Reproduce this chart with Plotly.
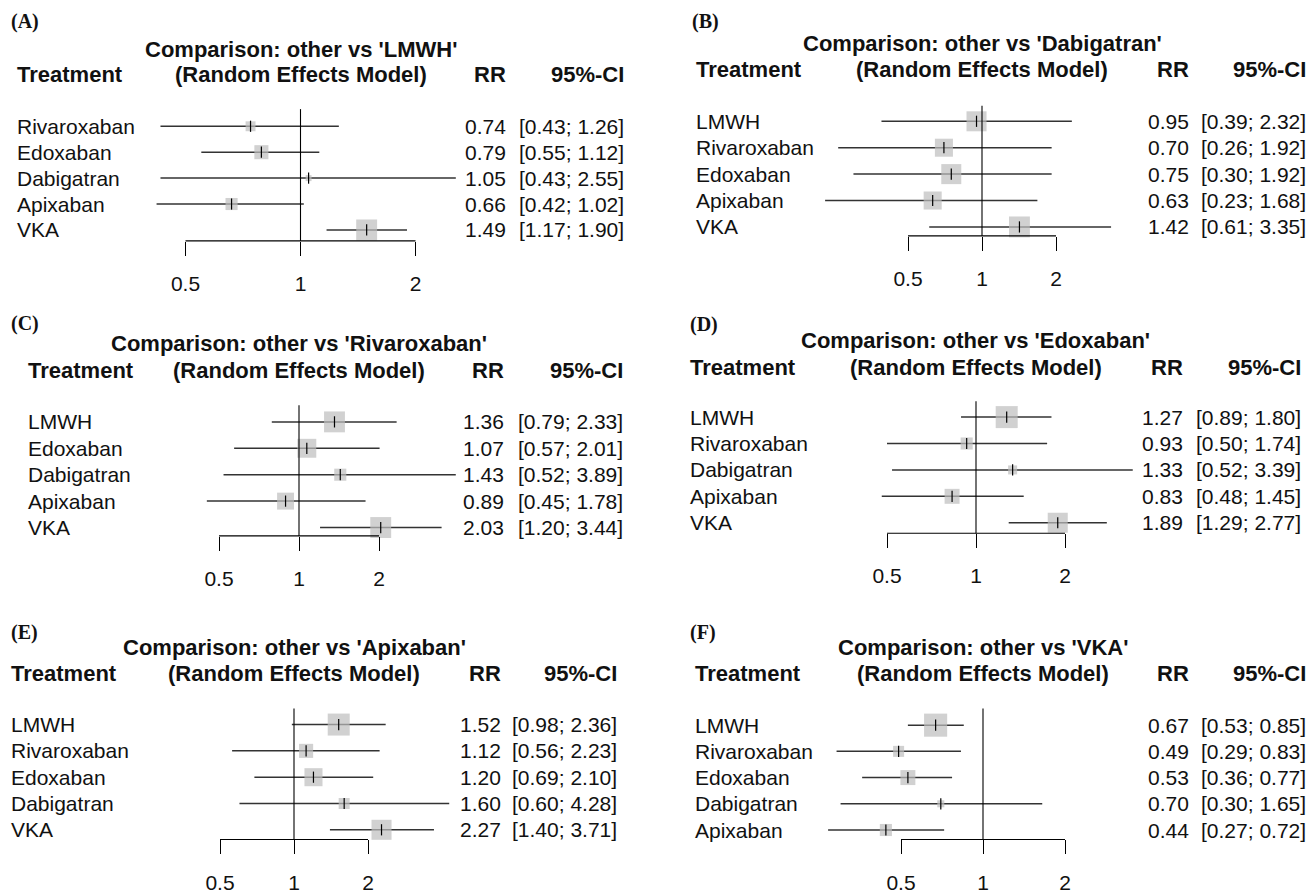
import math
import plotly.graph_objects as go

W, H = 1315, 894

# ---------------- data ----------------
PANELS = ["A", "B", "C", "D", "E", "F"]

A_ref = "LMWH"
A_treat = ["Rivaroxaban", "Edoxaban", "Dabigatran", "Apixaban", "VKA"]
A_rr = [0.74, 0.79, 1.05, 0.66, 1.49]
A_lo = [0.43, 0.55, 0.43, 0.42, 1.17]
A_hi = [1.26, 1.12, 2.55, 1.02, 1.90]
A_w = [45, 64, 27, 55, 95]

B_ref = "Dabigatran"
B_treat = ["LMWH", "Rivaroxaban", "Edoxaban", "Apixaban", "VKA"]
B_rr = [0.95, 0.70, 0.75, 0.63, 1.42]
B_lo = [0.39, 0.26, 0.30, 0.23, 0.61]
B_hi = [2.32, 1.92, 1.92, 1.68, 3.35]
B_w = [91, 82, 91, 82, 95]

C_ref = "Rivaroxaban"
C_treat = ["LMWH", "Edoxaban", "Dabigatran", "Apixaban", "VKA"]
C_rr = [1.36, 1.07, 1.43, 0.89, 2.03]
C_lo = [0.79, 0.57, 0.52, 0.45, 1.20]
C_hi = [2.33, 2.01, 3.89, 1.78, 3.44]
C_w = [95, 86, 55, 77, 95]

D_ref = "Edoxaban"
D_treat = ["LMWH", "Rivaroxaban", "Dabigatran", "Apixaban", "VKA"]
D_rr = [1.27, 0.93, 1.33, 0.83, 1.89]
D_lo = [0.89, 0.50, 0.52, 0.48, 1.29]
D_hi = [1.80, 1.74, 3.39, 1.45, 2.77]
D_w = [100, 55, 41, 68, 91]

E_ref = "Apixaban"
E_treat = ["LMWH", "Rivaroxaban", "Edoxaban", "Dabigatran", "VKA"]
E_rr = [1.52, 1.12, 1.20, 1.60, 2.27]
E_lo = [0.98, 0.56, 0.69, 0.60, 1.40]
E_hi = [2.36, 2.23, 2.10, 4.28, 3.71]
E_w = [100, 64, 82, 50, 91]

F_ref = "VKA"
F_treat = ["LMWH", "Rivaroxaban", "Edoxaban", "Dabigatran", "Apixaban"]
F_rr = [0.67, 0.49, 0.53, 0.70, 0.44]
F_lo = [0.53, 0.29, 0.36, 0.30, 0.27]
F_hi = [0.85, 0.83, 0.77, 1.65, 0.72]
F_w = [105, 50, 68, 32, 55]

TICK_VALS = [0.5, 1, 2]
TICK_TEXT = ["0.5", "1", "2"]
NULL_VALUE = 1

DATA = {
    "A": (A_ref, A_treat, A_rr, A_lo, A_hi, A_w),
    "B": (B_ref, B_treat, B_rr, B_lo, B_hi, B_w),
    "C": (C_ref, C_treat, C_rr, C_lo, C_hi, C_w),
    "D": (D_ref, D_treat, D_rr, D_lo, D_hi, D_w),
    "E": (E_ref, E_treat, E_rr, E_lo, E_hi, E_w),
    "F": (F_ref, F_treat, F_rr, F_lo, F_hi, F_w),
}

# ---------------- geometry (pixels) & style ----------------
GEOM = {
    "A": dict(x1=300.5, k=115, row1=126.7, sp=26.0, top=109.5, axis=241.7,
              title_y=49.3, head_y=75, left=15, rr_r=508, ci_r=626, tag_x=8.5, tag_y=22),
    "B": dict(x1=982, k=74, row1=121.7, sp=26.5, top=106, axis=236.7,
              title_y=43.3, head_y=70, left=694, rr_r=1191, ci_r=1308, tag_x=690, tag_y=22),
    "C": dict(x1=299, k=80, row1=423.3, sp=26.5, top=406.7, axis=537.7,
              title_y=345, head_y=371.7, left=26, rr_r=506, ci_r=625, tag_x=8.5, tag_y=325),
    "D": dict(x1=976, k=89, row1=418.5, sp=26.5, top=402.7, axis=535,
              title_y=341.7, head_y=368.3, left=687.5, rr_r=1184.5, ci_r=1302.5, tag_x=687.5, tag_y=326),
    "E": dict(x1=294, k=74, row1=727, sp=26.4, top=711, axis=842.3,
              title_y=650, head_y=676, left=9, rr_r=502.5, ci_r=619, tag_x=8.5, tag_y=635),
    "F": dict(x1=983, k=82, row1=727.6, sp=26.3, top=711, axis=842.3,
              title_y=650, head_y=676, left=693, rr_r=1191, ci_r=1308, tag_x=687.5, tag_y=635),
}
SPAN = 2.5            # half-width of each forest area, in log2 units
BOX_MAX = 22          # px side of a box with weight 100
FONT = "Liberation Sans, Arial, Helvetica, sans-serif"
SERIF = "Liberation Serif, Times New Roman, serif"
TXT = "#111111"
BOX = "#BEBEBE"
CI_COL = "#333333"


def px_x(p):
    return p / W


def px_y(p):
    return 1 - p / H


fig = go.Figure()
annotations = []
shapes = []
layout_axes = {}

for i, key in enumerate(PANELS, start=1):
    ref, treat, rr, lo, hi, w = DATA[key]
    g = GEOM[key]
    xa = "x" if i == 1 else f"x{i}"
    ya = "y" if i == 1 else f"y{i}"
    n = len(treat)
    rows = list(range(n))

    # CI lines
    cx, cy = [], []
    for r, a, b in zip(rows, lo, hi):
        cx += [a, b, None]
        cy += [r, r, None]
    fig.add_trace(go.Scatter(x=cx, y=cy, mode="lines", xaxis=xa, yaxis=ya,
                             line=dict(color=CI_COL, width=1.5), showlegend=False,
                             hoverinfo="skip"))
    # boxes
    fig.add_trace(go.Scatter(x=rr, y=rows, mode="markers", xaxis=xa, yaxis=ya,
                             marker=dict(symbol="square", color=BOX,
                                         size=[v * BOX_MAX / 100 for v in w],
                                         line=dict(width=0)),
                             cliponaxis=False, showlegend=False))
    # estimate ticks
    fig.add_trace(go.Scatter(x=rr, y=rows, mode="markers", xaxis=xa, yaxis=ya,
                             marker=dict(symbol="line-ns", size=8,
                                         line=dict(color="#000000", width=1.2)),
                             cliponaxis=False, showlegend=False, hoverinfo="skip"))

    # axes
    xl = g["x1"] - SPAN * g["k"]
    xr = g["x1"] + SPAN * g["k"]
    lg = math.log10(2) * SPAN
    layout_axes["xaxis" if i == 1 else f"xaxis{i}"] = dict(
        type="log", domain=[px_x(xl), px_x(xr)], range=[-lg, lg],
        anchor=ya, showgrid=False, zeroline=False, showline=False,
        tickvals=TICK_VALS, ticktext=TICK_TEXT, ticks="outside", ticklen=14,
        tickwidth=1, tickcolor="#000000", ticklabelstandoff=10,
        tickfont=dict(family=FONT, size=21, color=TXT), fixedrange=True)
    r_bot = (g["axis"] - g["row1"]) / g["sp"]
    r_top = (g["top"] - g["row1"]) / g["sp"]
    layout_axes["yaxis" if i == 1 else f"yaxis{i}"] = dict(
        domain=[px_y(g["axis"]), px_y(g["top"])], range=[r_bot, r_top],
        anchor=xa, visible=False, fixedrange=True)

    # reference line at 1 and axis line 0.5..2 (shapes on log axes take data values)
    shapes.append(dict(type="line", xref=xa, yref=f"{ya} domain",
                       x0=NULL_VALUE, x1=NULL_VALUE, y0=0, y1=1,
                       line=dict(color="#000000", width=1.1)))
    shapes.append(dict(type="line", xref=xa, yref=f"{ya} domain",
                       x0=TICK_VALS[0], x1=TICK_VALS[-1], y0=0, y1=0,
                       line=dict(color="#000000", width=1.1)))

    # text: tag, title, headers
    annotations.append(dict(text=f"({key})", x=px_x(g["tag_x"]), y=px_y(g["tag_y"]),
                            xref="paper", yref="paper", xanchor="left", yanchor="middle",
                            showarrow=False,
                            font=dict(family=SERIF, size=20, color=TXT, weight="bold")))
    bold = dict(family=FONT, size=22, color=TXT, weight="bold")
    annotations.append(dict(text=f"Comparison: other vs '{ref}'", x=px_x(g["x1"]),
                            y=px_y(g["title_y"]), xref="paper", yref="paper",
                            xanchor="center", yanchor="middle", showarrow=False, font=bold))
    annotations.append(dict(text="(Random Effects Model)", x=px_x(g["x1"]),
                            y=px_y(g["head_y"]), xref="paper", yref="paper",
                            xanchor="center", yanchor="middle", showarrow=False, font=bold))
    annotations.append(dict(text="Treatment", x=px_x(g["left"]), y=px_y(g["head_y"]),
                            xref="paper", yref="paper", xanchor="left", yanchor="middle",
                            showarrow=False, font=bold))
    annotations.append(dict(text="RR", x=px_x(g["rr_r"]), y=px_y(g["head_y"]),
                            xref="paper", yref="paper", xanchor="right", yanchor="middle",
                            showarrow=False, font=bold))
    annotations.append(dict(text="95%-CI", x=px_x(g["ci_r"]), y=px_y(g["head_y"]),
                            xref="paper", yref="paper", xanchor="right", yanchor="middle",
                            showarrow=False, font=bold))

    reg = dict(family=FONT, size=21, color=TXT)
    for r, t, v, a, b in zip(rows, treat, rr, lo, hi):
        annotations.append(dict(text=t, x=px_x(g["left"]), y=r, xref="paper", yref=ya,
                                xanchor="left", yanchor="middle", showarrow=False, font=reg))
        annotations.append(dict(text=f"{v:.2f}", x=px_x(g["rr_r"]), y=r, xref="paper", yref=ya,
                                xanchor="right", yanchor="middle", showarrow=False, font=reg))
        annotations.append(dict(text=f"[{a:.2f}; {b:.2f}]", x=px_x(g["ci_r"]), y=r,
                                xref="paper", yref=ya, xanchor="right", yanchor="middle",
                                showarrow=False, font=reg))

fig.update_layout(
    width=W, height=H, autosize=False,
    margin=dict(l=0, r=0, t=0, b=0),
    paper_bgcolor="#FFFFFF", plot_bgcolor="rgba(0,0,0,0)",
    showlegend=False, annotations=annotations, shapes=shapes,
    hovermode=False,
    **layout_axes,
)

fig.write_html("out.html",
               config={"displayModeBar": False, "staticPlot": True},
               post_script="document.body.style.margin='0px';document.body.style.overflow='hidden';")
